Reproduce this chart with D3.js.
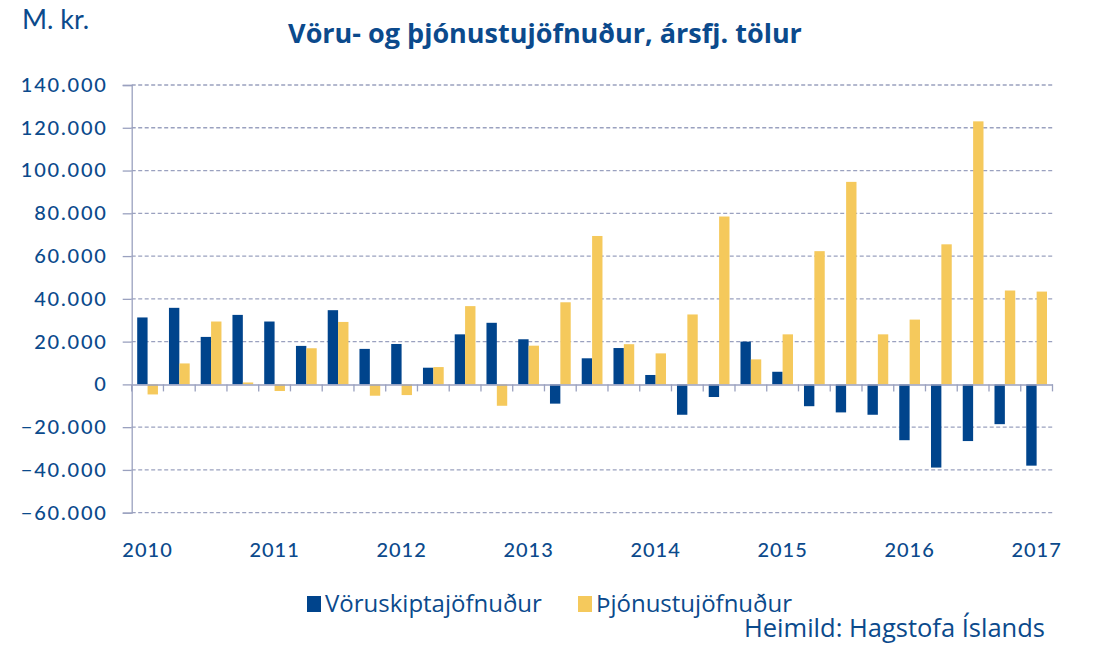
<!DOCTYPE html>
<html><head><meta charset="utf-8">
<script src="https://cdn.jsdelivr.net/npm/d3@7"></script>
<style>body{margin:0;background:#fff}svg{display:block}</style>
</head><body>
<svg id="c" width="1099" height="646"></svg>
<script>
const quarters = ["2010Q1","2010Q2","2010Q3","2010Q4","2011Q1","2011Q2","2011Q3","2011Q4","2012Q1","2012Q2","2012Q3","2012Q4","2013Q1","2013Q2","2013Q3","2013Q4","2014Q1","2014Q2","2014Q3","2014Q4","2015Q1","2015Q2","2015Q3","2015Q4","2016Q1","2016Q2","2016Q3","2016Q4","2017Q1"];
const voruskipti = [31300,35800,22200,32500,29400,18000,34700,16600,18900,7800,23400,28800,21100,-9000,12200,17000,4400,-14200,-5900,20000,5900,-10200,-13100,-14200,-26100,-38900,-26500,-18600,-38000];
const thjonusta = [-4700,9800,29400,900,-3100,16900,29200,-5300,-5000,8100,36600,-10000,18100,38400,69400,18800,14500,32700,78500,11700,23400,62300,94700,23400,30300,65500,123000,43900,43400];
const yTicks = [-60000,-40000,-20000,0,20000,40000,60000,80000,100000,120000,140000];
const seriesNames = ["Vöruskiptajöfnuður","Þjónustujöfnuður"];
const colors = ["#00448c","#f5c95c"];
const textColor = "#0b4a8c";

const svg = d3.select("#c");
const L = 131.7, R = 1052.5, T = 85, B = 512.7;
const x0 = d3.scaleBand().domain(quarters).range([L, R]).paddingInner(0).paddingOuter(0);
const x1 = d3.scaleBand().domain([0,1]).range([5.5, x0.bandwidth()-5.5]).padding(0);
const y = d3.scaleLinear().domain([-60000,140000]).range([B, T]);
const fmt = v => v === 0 ? "0" : d3.format(",")(v).replace(/,/g, ".");

// grid
svg.append("g").selectAll("line").data(yTicks.filter(v => v !== 0)).join("line")
  .attr("x1", L).attr("x2", R).attr("y1", d => y(d)).attr("y2", d => y(d))
  .attr("stroke", "#9aa1bf").attr("stroke-width", 1.3).attr("stroke-dasharray", "4,2.5");

// bars
const g = svg.append("g");
quarters.forEach((q, i) => {
  [voruskipti[i], thjonusta[i]].forEach((v, s) => {
    g.append("rect")
      .attr("x", x0(q) + x1(s)).attr("width", x1.bandwidth())
      .attr("y", y(Math.max(0, v))).attr("height", Math.abs(y(v) - y(0)))
      .attr("fill", colors[s]);
  });
});

// y axis
const yAxis = d3.axisLeft(y).tickValues(yTicks).tickSize(9).tickFormat(fmt);
const ya = svg.append("g").attr("transform", `translate(${L},0)`).call(yAxis);
ya.select(".domain").attr("stroke", "#9aa1bf").attr("stroke-width", 1.3);
ya.selectAll(".tick line").attr("stroke", "#9aa1bf").attr("stroke-width", 1.3);
ya.selectAll(".tick text").attr("x", -24).attr("fill", textColor)
  .attr("font-family", "Lato, sans-serif").attr("font-size", 20).attr("font-weight", 500)
  .attr("letter-spacing", 1.8);

// x axis at zero
const xAxis = d3.axisBottom(x0).tickValues([]).tickSizeOuter(0);
const xa = svg.append("g").attr("transform", `translate(0,${y(0)})`).call(xAxis);
xa.select(".domain").attr("stroke", "#9aa1bf").attr("stroke-width", 1.5);
xa.selectAll("line.b").data(d3.range(quarters.length + 1)).join("line").attr("class","b")
  .attr("x1", d => L + d * x0.step()).attr("x2", d => L + d * x0.step())
  .attr("y1", 0).attr("y2", 7).attr("stroke", "#9aa1bf").attr("stroke-width", 1.3);

// year labels
svg.append("g").selectAll("text").data(quarters.filter(q => q.endsWith("Q1"))).join("text")
  .attr("x", d => x0(d) + x0.bandwidth()/2).attr("y", 557)
  .attr("text-anchor", "middle").attr("fill", textColor)
  .attr("font-family", "Lato, sans-serif").attr("font-size", 20).attr("font-weight", 500)
  .attr("letter-spacing", 1)
  .text(d => d.slice(0,4));

// title
svg.append("text").attr("x", 545).attr("y", 43).attr("text-anchor", "middle")
  .attr("fill", textColor).attr("font-family", "'Open Sans', sans-serif").attr("font-weight", 700).attr("font-size", 27)
  .text("Vöru- og þjónustujöfnuður, ársfj. tölur");
svg.append("text").attr("x", 22).attr("y", 29).attr("fill", textColor)
  .attr("font-family", "Lato, sans-serif").attr("font-size", 27).text("M. kr.");

// legend
const leg = [{x:307, tx:325}, {x:578, tx:596}];
seriesNames.forEach((n, i) => {
  svg.append("rect").attr("x", leg[i].x).attr("y", 596).attr("width", 14).attr("height", 16).attr("fill", colors[i]);
  svg.append("text").attr("x", leg[i].tx).attr("y", 612).attr("fill", textColor)
    .attr("font-family", "'Liberation Sans Narrow', 'Open Sans', sans-serif").attr("font-size", 24)
    .text(n);
});
svg.append("text").attr("x", 1045).attr("y", 637).attr("text-anchor", "end").attr("fill", textColor)
  .attr("font-family", "'Liberation Sans Narrow', 'Open Sans', sans-serif").attr("font-size", 25.5)
  .text("Heimild: Hagstofa Íslands");
</script>
</body></html>
